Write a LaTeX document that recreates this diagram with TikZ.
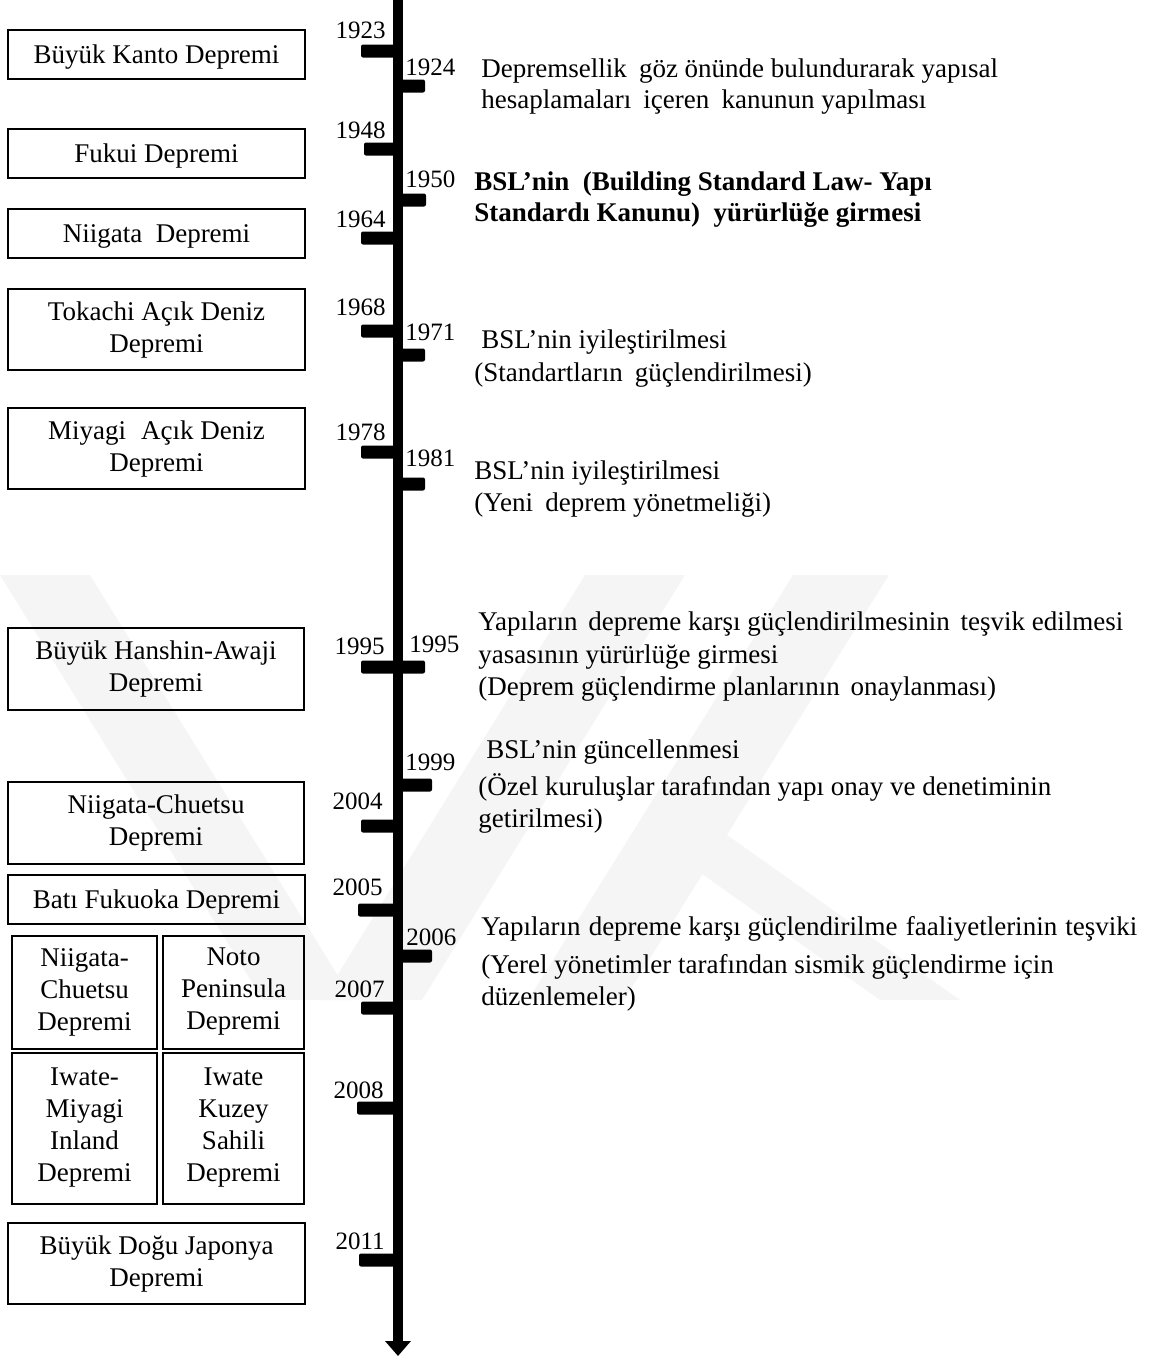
\documentclass[tikz,border=0pt]{standalone}
\usepackage{fontspec}
\setmainfont{Liberation Serif}
\usetikzlibrary{arrows.meta}
\begin{document}
\begin{tikzpicture}[x=0.5pt,y=-0.5pt,
  ebox/.style={draw, line width=1pt, inner sep=0pt,
    font=\fontsize{13.5}{16}\selectfont},
  onel/.style={text height=0.94em, text depth=0em},
  mline/.style={align=center},
  yr/.style={inner sep=0pt, font=\fontsize{12.5}{15}\selectfont},
  yl/.style={yr, anchor=base east},
  yrt/.style={yr, anchor=base west},
  note/.style={inner sep=0pt, anchor=base west, font=\fontsize{13.5}{16}\selectfont},
  notebf/.style={note, font=\fontsize{13.5}{16}\selectfont\bfseries},
  tickmark/.style={fill=black, rounded corners=1pt},
  wm/.style={fill=black!4}
]
\useasboundingbox (0,0) rectangle (1156,1357);

% faint background emblem
\fill[wm] (0,575) -- (90,575) -- (353,1000) -- (263,1000) -- cycle;
\fill[wm] (585,575) -- (685,575) -- (422,1000) -- (322,1000) -- cycle;
\fill[wm] (793,575) -- (889,575) -- (624,1000) -- (528,1000) -- cycle;
\fill[wm] (640,830) -- (720,830) -- (960,1000) -- (880,1000) -- cycle;

% time axis
\coordinate (ttop) at (398,0);
\coordinate (tend) at (398,1356);
\draw[line width=5pt, -{Triangle[width=12.5pt,length=7.5pt]}] (ttop) -- (tend);

% ticks on the left (earthquakes)
\foreach \xl/\yc in {361/51, 364/149, 361/238, 361/331, 361/452, 361/667,
                      361/826, 358/910, 361/1008, 357/1108, 359/1260}
  \fill[tickmark] (\xl,\yc-6.5) rectangle (399,\yc+6.5);
% ticks on the right (legislation)
\foreach \xr/\yc in {425/86, 426/200, 425/355, 425/484, 425/667,
                     432/785, 432/956}
  \fill[tickmark] (397,\yc-6.5) rectangle (\xr,\yc+6.5);

% years, left side
\node[yl] (y1923) at (386,38.5) {1923};
\node[yl] (y1948) at (386,138.5) {1948};
\node[yl] (y1964) at (386,227.5) {1964};
\node[yl] (y1968) at (386,315.5) {1968};
\node[yl] (y1978) at (386,440.5) {1978};
\node[yl] (y1995l) at (385,654.5) {1995};
\node[yl] (y2004) at (383,809.5) {2004};
\node[yl] (y2005) at (383,895.5) {2005};
\node[yl] (y2007) at (385,997.5) {2007};
\node[yl] (y2008) at (384,1098.5) {2008};
\node[yl] (y2011) at (385,1249.5) {2011};

% years, right side
\node[yrt] (y1924) at (405,75.5) {1924};
\node[yrt] (y1950) at (405,187.5) {1950};
\node[yrt] (y1971) at (405,340.5) {1971};
\node[yrt] (y1981) at (405,466.5) {1981};
\node[yrt] (y1995r) at (409,652.5) {1995};
\node[yrt] (y1999) at (405,770.5) {1999};
\node[yrt] (y2006) at (406,945.5) {2006};

% earthquakes
\node[ebox, onel, minimum width=148.5pt, minimum height=24.5pt] (kanto) at (156.5,54.5) {Büyük Kanto Depremi};
\node[ebox, onel, minimum width=148.5pt, minimum height=24.5pt] (fukui) at (156.5,153.5) {Fukui Depremi};
\node[ebox, onel, minimum width=148.5pt, minimum height=24.5pt] (niigata) at (156.5,233.5) {Niigata\hspace{0.5em}Depremi};
\node[ebox, mline, minimum width=148.5pt, minimum height=40.5pt] (tokachi) at (156.5,329.5) {Tokachi Açık Deniz\\Depremi};
\node[ebox, mline, minimum width=148.5pt, minimum height=40.5pt] (miyagi) at (156.5,448.5) {Miyagi\hspace{0.55em}Açık Deniz\\Depremi};
\node[ebox, mline, minimum width=148pt, minimum height=41pt] (hanshin) at (156,669) {Büyük Hanshin-Awaji\\Depremi};
\node[ebox, mline, minimum width=148pt, minimum height=41pt] (chuetsu) at (156,823) {Niigata-Chuetsu\\Depremi};
\node[ebox, onel, minimum width=148.5pt, minimum height=24.5pt] (fukuoka) at (156.5,899.5) {Batı Fukuoka Depremi};
\node[ebox, mline, minimum width=72.5pt, minimum height=56.5pt] (chuetsuoki) at (84.5,992) {Niigata-\\Chuetsu\\Depremi};
\node[ebox, mline, minimum width=70.5pt, minimum height=56.5pt] (noto) at (233.5,992) {Noto\\Peninsula\\Depremi};
\node[ebox, mline, minimum width=72.5pt, minimum height=75.5pt] (iwmiyagi) at (84.5,1128) {Iwate-\\Miyagi\\Inland\\Depremi};
\node[ebox, mline, minimum width=70.5pt, minimum height=75.5pt] (iwkuzey) at (233.5,1128) {Iwate\\Kuzey\\Sahili\\Depremi};
\node[ebox, mline, minimum width=148.5pt, minimum height=40.5pt] (tohoku) at (156.5,1263.5) {Büyük Doğu Japonya\\Depremi};

% legislation
\node[note] (n1924a) at (481,77) {Depremsellik\hspace{0.45em}göz önünde bulundurarak yapısal};
\node[note] (n1924b) at (481,108) {hesaplamaları\hspace{0.45em}içeren\hspace{0.45em}kanunun yapılması};
\node[notebf] (n1950a) at (474,190) {BSL’nin\hspace{0.5em}(Building Standard Law- Yapı};
\node[notebf] (n1950b) at (474,221) {Standardı Kanunu)\hspace{0.5em}yürürlüğe girmesi};
\node[note] (n1971a) at (481,348) {BSL’nin iyileştirilmesi};
\node[note] (n1971b) at (474,381) {(Standartların\hspace{0.45em}güçlendirilmesi)};
\node[note] (n1981a) at (474,479) {BSL’nin iyileştirilmesi};
\node[note] (n1981b) at (474,511) {(Yeni\hspace{0.45em}deprem yönetmeliği)};
\node[note] (n1995a) at (478,630) {Yapıların\hspace{0.4em}depreme karşı güçlendirilmesinin\hspace{0.4em}teşvik edilmesi};
\node[note] (n1995b) at (478,663) {yasasının yürürlüğe girmesi};
\node[note] (n1995c) at (478,695) {(Deprem güçlendirme planlarının\hspace{0.4em}onaylanması)};
\node[note] (n1999a) at (486,758) {BSL’nin güncellenmesi};
\node[note] (n1999b) at (478,795) {(Özel kuruluşlar tarafından yapı onay ve denetiminin};
\node[note] (n1999c) at (478,827) {getirilmesi)};
\node[note] (n2006a) at (481,935) {Yapıların\hspace{0.3em}depreme karşı güçlendirilme\hspace{0.3em}faaliyetlerinin\hspace{0.3em}teşviki};
\node[note] (n2006b) at (481,973) {(Yerel yönetimler tarafından sismik güçlendirme için};
\node[note] (n2006c) at (481,1005) {düzenlemeler)};
\end{tikzpicture}
\end{document}
